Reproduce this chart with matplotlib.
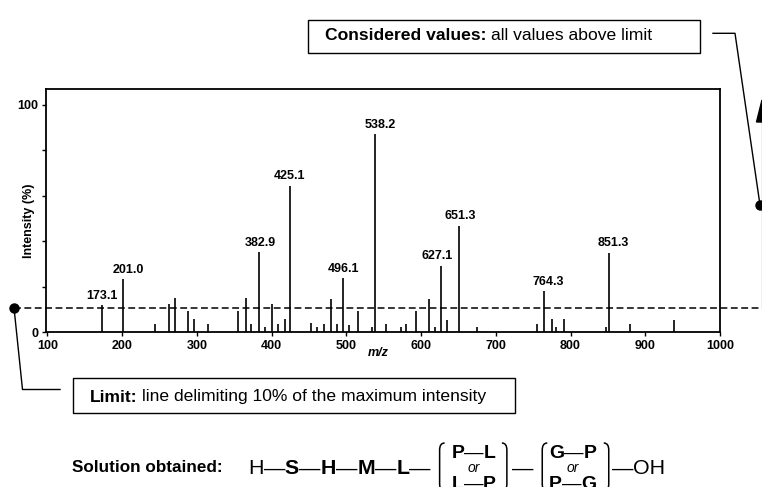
import matplotlib
matplotlib.use("Agg")
import matplotlib.pyplot as plt
import matplotlib.transforms as mtransforms
from matplotlib.lines import Line2D
from matplotlib.patches import Rectangle, Polygon, PathPatch
from matplotlib.path import Path

# labelled peaks (m/z, relative intensity %)
labeled_mz = [173.1, 201.0, 382.9, 425.1, 496.1, 538.2, 627.1, 651.3, 764.3, 851.3]
labeled_int = [12.0, 23.3, 35.3, 64.4, 23.8, 87.1, 29.3, 46.9, 18.0, 34.9]

# unlabelled minor peaks
minor_mz = [244, 263, 270, 288, 296, 315, 355, 365, 373, 391, 401, 408, 418,
            452, 461, 470, 479, 487, 504, 515, 534, 553, 573, 580, 593, 610,
            618, 635, 675, 755, 775, 780, 791, 847, 879, 938]
minor_int = [3.6, 12.3, 15.2, 9.5, 6.0, 3.5, 9.5, 15.2, 3.7, 2.5, 12.6, 3.5, 6.0,
             4.1, 2.2, 3.5, 14.5, 3.6, 3.0, 9.5, 2.5, 3.6, 2.2, 3.7, 9.5, 14.5,
             2.5, 5.6, 2.2, 3.6, 5.9, 2.5, 5.9, 2.2, 3.6, 5.6]

limit = 10.8  # dashed threshold line

x_ticks = [100, 200, 300, 400, 500, 600, 700, 800, 900, 1000]
y_ticks = [0, 20, 40, 60, 80, 100]
y_ticklabels = ["0", "", "", "", "", "100"]

W, H = 762, 487
plt.rcParams["font.family"] = ["Liberation Sans", "DejaVu Sans"]

fig = plt.figure(figsize=(W / 100, H / 100), dpi=100)


def P(x, y):
    # pixel position (from top-left) -> figure fraction
    return x / W, 1 - y / H


ax = fig.add_axes([46 / W, 1 - 332.3 / H, (720 - 46) / W, (332.3 - 89) / H])
ax.vlines(minor_mz + labeled_mz, 0, minor_int + labeled_int, color="black", lw=1.2)
ax.set_xlim(98, 1000)
ax.set_ylim(0, 107)
ax.set_xticks(x_ticks)
ax.set_xticklabels([str(t) for t in x_ticks], fontweight="bold", fontsize=9)
ax.set_yticks(y_ticks)
ax.set_yticklabels(y_ticklabels, fontweight="bold", fontsize=9)
ax.tick_params(direction="out", length=3, width=1, pad=2.5)
for s in ax.spines.values():
    s.set_linewidth(1.3)

ax.set_xlabel("m/z", fontweight="bold", fontstyle="italic", fontsize=9)
ax.xaxis.set_label_coords(0.4926, -0.062)
ax.set_ylabel("Intensity (%)", fontweight="bold", fontsize=9)
ax.yaxis.set_label_coords(-0.016, 0.457)

label_dx = [0, 5, 1, -1, 0, 5, -4, 1, 4, 4]
for mz, val, dx in zip(labeled_mz, labeled_int, label_dx):
    ax.annotate(f"{mz:.1f}", (mz, val), xytext=(dx, 6.5), textcoords="offset pixels",
                ha="center", va="baseline", fontsize=9, fontweight="bold")

# limit line, running across the whole figure width
blend = mtransforms.blended_transform_factory(fig.transFigure, ax.transData)
ax.plot([14 / W, 1.02], [limit, limit], transform=blend, clip_on=False,
        color="black", lw=1.1, dashes=(4.5, 2.3))
ax.plot([14 / W], [limit], "o", transform=blend, clip_on=False, color="black", ms=6.5)

# figure position of the left dot
dot_y = fig.transFigure.inverted().transform(blend.transform((14 / W, limit)))[1]
dot_ypx = (1 - dot_y) * H


def fig_line(pts, lw=1.0):
    xs, ys = zip(*[P(x, y) for x, y in pts])
    fig.add_artist(Line2D(xs, ys, transform=fig.transFigure, color="black", lw=lw))


fig_line([(14, dot_ypx), (22.5, 389.5), (60, 389.5)])
fig_line([(713, 33.3), (735, 33.3), (760, 205)])
fig.add_artist(Line2D(*zip(P(760, 205)), transform=fig.transFigure, marker="o",
                      ms=6.5, color="black"))
fig_line([(761.5, 120), (761.5, dot_ypx)], lw=0.8)
fig.add_artist(Polygon([P(762, 100), P(756.5, 122), P(767.5, 122)], closed=True,
                       transform=fig.transFigure, color="black"))

renderer = fig.canvas.get_renderer()


def put_text(x, y, s, **kw):
    t = fig.text(*P(x, y), s, ha="left", va="baseline", **kw)
    bb = t.get_window_extent(renderer)
    return x + bb.width


def box(x0, y0, x1, y1):
    fx0, fy1 = P(x0, y0)
    fx1, fy0 = P(x1, y1)
    fig.add_artist(Rectangle((fx0, fy0), fx1 - fx0, fy1 - fy0, transform=fig.transFigure,
                             fill=False, ec="black", lw=1.0))


# annotation boxes
box_fs = 12.6
box(308, 20, 700, 53)
x = put_text(325, 40.5, "Considered values:", fontsize=box_fs, fontweight="bold")
put_text(x + 4.5, 40.5, "all values above limit", fontsize=box_fs)

box(72.5, 378, 515, 413)
x = put_text(90, 401.5, "Limit:", fontsize=box_fs, fontweight="bold")
put_text(x + 4.5, 401.5, "line delimiting 10% of the maximum intensity", fontsize=box_fs)

# solution formula
base = 474.5
put_text(72, 471.5, "Solution obtained:", fontsize=12.3, fontweight="bold")

main_fs = 15.4
x = 248
for s, w in [("H", "normal"), ("\u2014", "normal"), ("S", "bold"), ("\u2014", "normal"),
             ("H", "bold"), ("\u2014", "normal"), ("M", "bold"), ("\u2014", "normal"),
             ("L", "bold"), ("\u2014", "normal")]:
    x = put_text(x, base, s, fontsize=main_fs, fontweight=w)


def bracket(x0, left=True):
    top, bot, r = 443, 491, 5
    d = r if left else -r
    verts = [P(x0 + d, top), P(x0, top), P(x0, top + 7), P(x0, bot - 7), P(x0, bot), P(x0 + d, bot)]
    codes = [Path.MOVETO, Path.CURVE3, Path.CURVE3, Path.LINETO, Path.CURVE3, Path.CURVE3]
    fig.add_artist(PathPatch(Path(verts, codes), transform=fig.transFigure,
                             fill=False, ec="black", lw=1.1))


def stack(x0, row1, row2):
    fs = 14
    widths = []
    for row, yb in [(row1, 457.5), (row2, 488.5)]:
        xx = x0
        for s, w in row:
            xx = put_text(xx, yb, s, fontsize=fs, fontweight=w)
        widths.append(xx - x0)
    wmax = max(widths)
    fig.text(*P(x0 + wmax / 2, 471.5), "or", ha="center", va="baseline",
             fontsize=10, fontstyle="italic")
    return x0 + wmax


dash = ("\u2014", "normal")
x += 9
bracket(x)
x = stack(x + 12, [("P", "bold"), dash, ("L", "bold")], [("L", "bold"), dash, ("P", "bold")])
x += 11
bracket(x, left=False)
x = put_text(x + 5, base, "\u2014", fontsize=main_fs)
x += 9
bracket(x)
x = stack(x + 7, [("G", "bold"), dash, ("P", "bold")], [("P", "bold"), dash, ("G", "bold")])
x += 12
bracket(x, left=False)
x = put_text(x + 3, base, "\u2014", fontsize=main_fs)
put_text(x, base, "OH", fontsize=main_fs)

fig.savefig("out.png", dpi=100)
